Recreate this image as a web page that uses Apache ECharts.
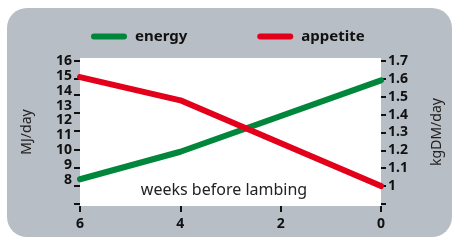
<!DOCTYPE html>
<html>
<head>
<meta charset="utf-8">
<script src="https://cdn.jsdelivr.net/npm/echarts@6/dist/echarts.min.js"></script>
<style>
html,body{margin:0;padding:0;background:#fff;}
#chart{width:458px;height:241px;}
</style>
</head>
<body>
<div id="chart"></div>
<script>
// data
var weeks = [6, 4, 0];                 // weeks before lambing
var energy = [8.05, 9.9, 14.7];        // MJ/day
var appetite = [1.61, 1.48, 1.0];      // kgDM/day
var leftLabels = [8, 9, 10, 11, 12, 13, 14, 15, 16];
// left tick marks do not sit on the labels in the original (MJ/day units)
var leftTicks = [16, 14.8, 13.7, 12.5, 11.3, 10.05, 8.8, 7.6, 6.4];
var rightLabels = [1, 1.1, 1.2, 1.3, 1.4, 1.5, 1.6, 1.7];
var rightTicks = [0.9, 1, 1.1, 1.2, 1.3, 1.4, 1.5, 1.6, 1.7];

var FONT = 'Noto Sans';
var GREEN = '#00873c';
var RED = '#e2001a';

var myChart = echarts.init(document.getElementById('chart'));

var boldLabel = {fontFamily: FONT, fontWeight: 'bold', fontSize: 14, color: '#111'};
var tickLine = {color: '#111', width: 2};
var icon = 'path://M3,0 H33 A3,3 0 0 1 33,6 H3 A3,3 0 0 1 3,0 Z';

var option = {
	animation: false,
	graphic: [{
		type: 'rect', z: -10, silent: true,
		shape: {x: 7, y: 8, width: 445, height: 229, r: 20},
		style: {fill: '#b8bec5'}
	}, {
		type: 'text', z: 10, silent: true,
		x: 224, y: 190,
		style: {text: 'weeks before lambing', fontFamily: FONT, fontSize: 16,
			fill: '#222', align: 'center', verticalAlign: 'middle'}
	}],
	legend: {
		left: 86, top: 24,
		itemWidth: 36, itemHeight: 6, itemGap: 70,
		icon: icon,
		textStyle: {fontFamily: FONT, fontWeight: 'bold', fontSize: 15, color: '#111', padding: [0, 0, 0, 3]},
		data: ['energy', 'appetite']
	},
	grid: {
		left: 80, top: 58, right: 77, bottom: 35,
		show: true, backgroundColor: '#fff', borderWidth: 0
	},
	xAxis: {
		type: 'value', min: 0, max: 6, interval: 2, inverse: true,
		axisLine: {show: false, onZero: false},
		axisTick: {show: true, length: 6, lineStyle: tickLine},
		axisLabel: Object.assign({margin: 11}, boldLabel),
		splitLine: {show: false}
	},
	yAxis: [{
		type: 'value', position: 'left',
		min: 8 - 26 / 14.875, max: 16 + 3 / 14.875,
		name: 'MJ/day', nameLocation: 'middle', nameGap: 46, nameRotate: 90,
		nameTextStyle: {fontFamily: FONT, fontSize: 14, color: '#222'},
		axisLine: {show: true, onZero: false, lineStyle: {opacity: 0}},
		axisTick: {show: true, length: 6, customValues: leftTicks, lineStyle: tickLine},
		axisLabel: Object.assign({margin: 8, customValues: leftLabels}, boldLabel),
		splitLine: {show: false}
	}, {
		type: 'value', position: 'right',
		min: 0.9 - 2 / 177.5, max: 1.7 + 3 / 177.5,
		name: 'kgDM/day', nameLocation: 'middle', nameGap: 49, nameRotate: 90,
		nameTextStyle: {fontFamily: FONT, fontSize: 14, color: '#222'},
		axisLine: {show: true, onZero: false, lineStyle: {opacity: 0}},
		axisTick: {show: true, length: 5, customValues: rightTicks, lineStyle: tickLine},
		axisLabel: Object.assign({margin: 7, customValues: rightLabels}, boldLabel),
		splitLine: {show: false}
	}],
	series: [{
		name: 'energy', type: 'line', yAxisIndex: 0,
		data: weeks.map(function (w, i) { return [w, energy[i]]; }),
		showSymbol: false, color: GREEN,
		lineStyle: {width: 6, color: GREEN, cap: 'round'}
	}, {
		name: 'appetite', type: 'line', yAxisIndex: 1,
		data: weeks.map(function (w, i) { return [w, appetite[i]]; }),
		showSymbol: false, color: RED,
		lineStyle: {width: 6, color: RED, cap: 'round'}
	}]
};
myChart.setOption(option);
</script>
</body>
</html>
